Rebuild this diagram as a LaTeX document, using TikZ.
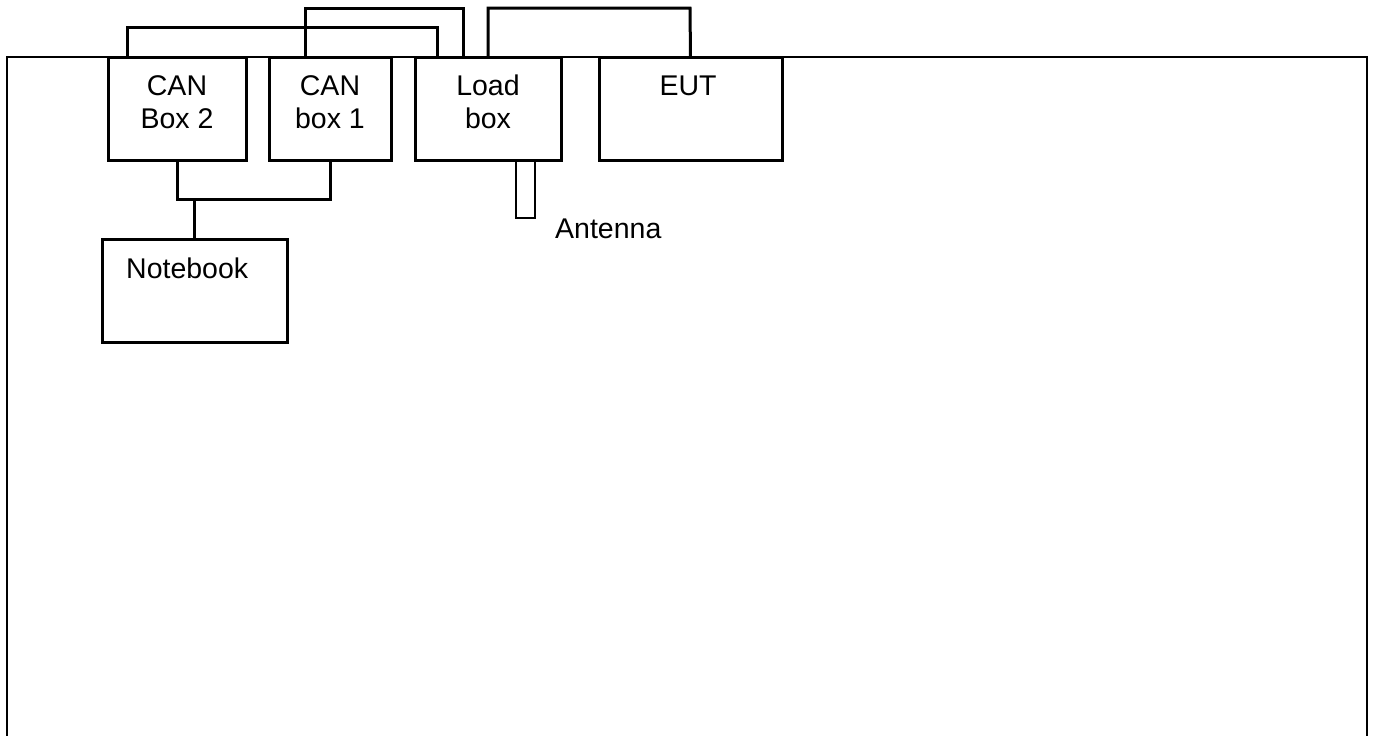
\documentclass[tikz,border=0pt]{standalone}
\usepackage{fontspec}
\setmainfont{Liberation Sans}
\usetikzlibrary{calc}
\begin{document}
\begin{tikzpicture}[x=1pt,y=-1pt,
  box/.style={draw=black,line width=3pt,fill=white,rectangle,inner sep=0pt,outer sep=0pt,minimum height=103pt},
  wire/.style={draw=black,line width=3pt,line join=miter},
  lbl/.style={anchor=base,inner sep=0pt,font=\fontsize{28.5}{33}\selectfont}]
\useasboundingbox (0,0) rectangle (1374,736);
% outer frame
\draw[line width=2pt] (7,740) -- (7,57) -- (1367,57) -- (1367,740);
% boxes
\node[box,minimum width=138pt] (can2) at (177,108.5) {};
\node[box,minimum width=122pt] (can1) at (330,108.5) {};
\node[box,minimum width=146pt] (load) at (488,108.5) {};
\node[box,minimum width=183pt] (eut) at (690.5,108.5) {};
\node[box,minimum width=185pt] (nb) at (194.5,290.5) {};
\node[draw=black,line width=2.5pt,inner sep=0pt,outer sep=0pt,minimum width=19pt,minimum height=58pt,anchor=north] (ant) at (525.5,160) {};
% labels
\node[lbl] (t1) at (177,95) {CAN};
\node[lbl] (t2) at (177,128) {Box 2};
\node[lbl] (t3) at (330,95) {CAN};
\node[lbl] (t4) at (330,128) {box 1};
\node[lbl] (t5) at (488,95) {Load};
\node[lbl] (t6) at (488,128) {box};
\node[lbl] (t7) at (688,95) {EUT};
\node[lbl,anchor=base west] (t8) at (126,278) {Notebook};
\node[lbl,anchor=base west] (t9) at (555,238) {Antenna};
% connectors
\draw[wire] ($(can2.north west)+(19,0)$) |- (437,27) -- ($(load.north west)+(22,0)$);
\draw[wire] ($(can1.north west)+(36,0)$) |- (463,8) -- ($(load.north west)+(48,0)$);
\draw[wire] (load.north) |- (690,8) -- (eut.north);
\coordinate (j) at (194.5,199);
\draw[wire] (can2.south) |- (can1.south |- j) -- (can1.south);
\draw[wire] (j) -- (nb.north);
\end{tikzpicture}
\end{document}
